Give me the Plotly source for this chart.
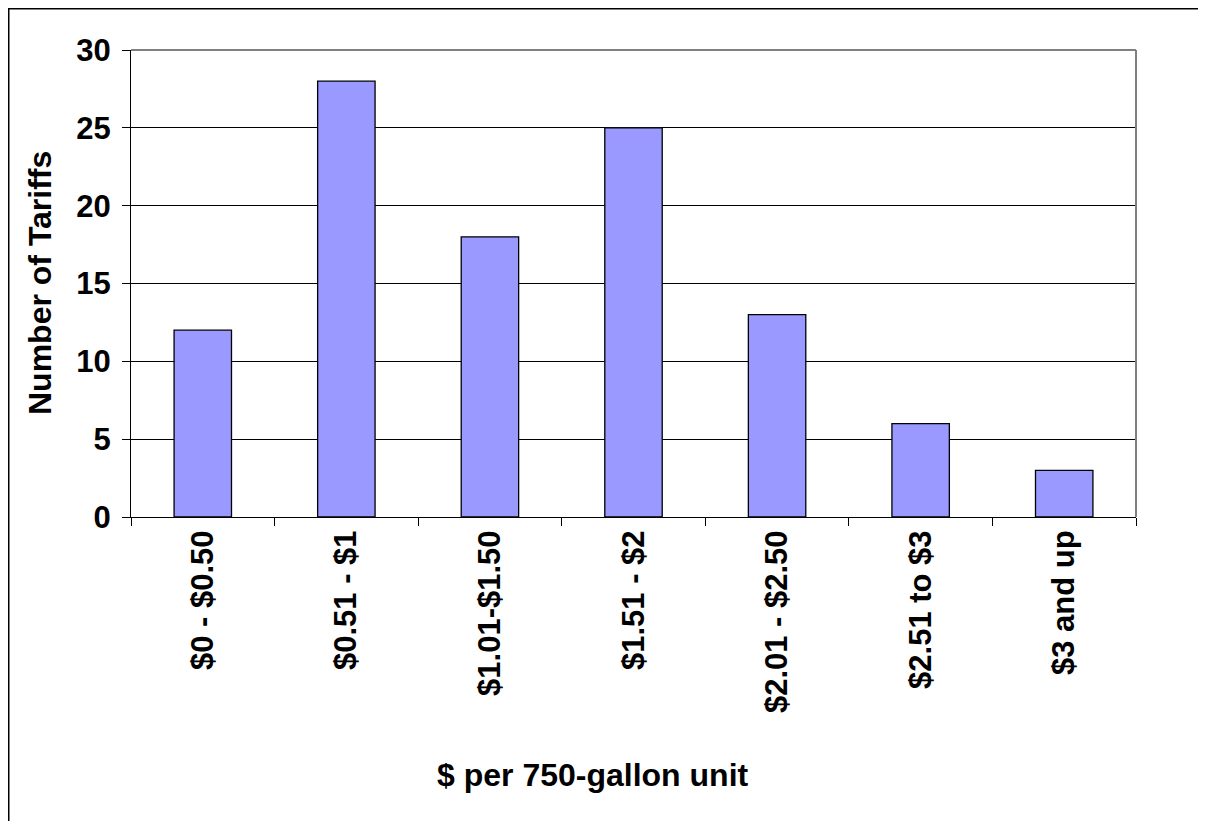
import plotly.graph_objects as go

categories = ["$0 - $0.50", "$0.51 - $1", "$1.01-$1.50", "$1.51 - $2",
              "$2.01 - $2.50", "$2.51 to $3", "$3 and up"]
counts = [12, 28, 18, 25, 13, 6, 3]
y_ticks = [0, 5, 10, 15, 20, 25, 30]

FONT = "Liberation Sans, Arial, sans-serif"
# page body has an 8px margin, so layout coords = page coords - 8
W, H = 1198, 813
L, R, T, B = 123, 1128, 42, 509
pw, ph = R - L, B - T

def px(x):
    return (x - L) / pw

def py(y):
    return (B - y) / ph

fig = go.Figure()
fig.add_trace(go.Bar(
    x=categories, y=counts, width=0.4,
    marker=dict(color="#9999FF", line=dict(color="black", width=1.3)),
))

fig.update_layout(
    width=W, height=H,
    margin=dict(l=L, r=W - R, t=T, b=H - B),
    paper_bgcolor="white", plot_bgcolor="white",
    showlegend=False,
    font=dict(family=FONT, size=31, color="black", weight="bold"),
)
fig.update_yaxes(
    range=[0, 30], tickvals=y_ticks, ticks="outside", ticklen=8, tickcolor="black",
    showline=True, linecolor="black", linewidth=1,
    showgrid=True, gridcolor="black", gridwidth=1,
    tickfont=dict(family=FONT, size=31, weight="bold"),
    ticklabelstandoff=5,
    zeroline=False, mirror=False,
)
fig.update_xaxes(
    tickangle=-90, ticks="outside", ticklen=8, tickcolor="black", tickson="boundaries",
    showline=True, linecolor="black", linewidth=1,
    tickfont=dict(family=FONT, size=31, weight="bold"),
)
# gray plot-area border top & right
fig.add_shape(type="line", xref="paper", yref="paper", x0=0, x1=1, y0=1, y1=1,
              line=dict(color="#808080", width=2))
fig.add_shape(type="line", xref="paper", yref="paper", x0=1, x1=1, y0=0, y1=1,
              line=dict(color="#808080", width=2))
# outer chart border (right/bottom edges fall outside the view)
fig.add_shape(type="rect", xref="paper", yref="paper",
              x0=px(0.5), x1=px(1260), y0=py(860), y1=py(0.5),
              line=dict(color="black", width=2), fillcolor="rgba(0,0,0,0)", layer="above")

fig.add_annotation(text="Number of Tariffs", xref="paper", yref="paper",
                   x=px(32), y=py(275), textangle=-90, showarrow=False,
                   xanchor="center", yanchor="middle",
                   font=dict(family=FONT, size=32, weight="bold"))
fig.add_annotation(text="$ per 750-gallon unit", xref="paper", yref="paper",
                   x=px(585), y=py(767), showarrow=False,
                   xanchor="center", yanchor="middle",
                   font=dict(family=FONT, size=32, weight="bold"))

fig.write_html("out.html")
